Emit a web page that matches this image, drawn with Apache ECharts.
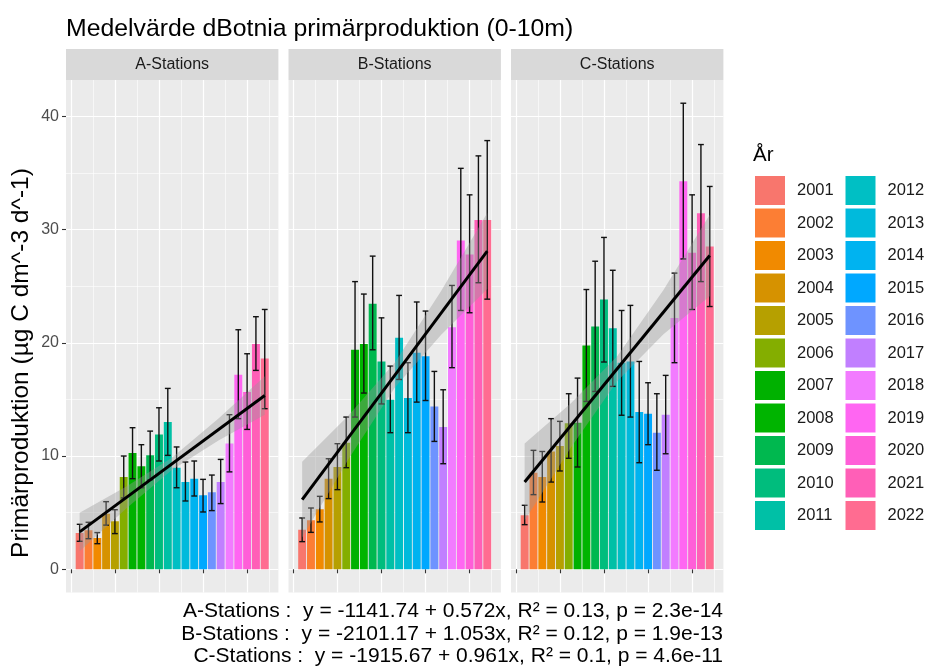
<!DOCTYPE html>
<html><head><meta charset="utf-8">
<script src="https://cdn.jsdelivr.net/npm/echarts@6/dist/echarts.min.js"></script>
<style>html,body{margin:0;padding:0;background:#fff}#c{width:925px;height:666px}</style>
</head><body><div id="c"></div>
<script>
// ---------- data ----------
const years = [2001,2002,2003,2004,2005,2006,2007,2008,2009,2010,2011,2012,2013,2014,2015,2016,2017,2018,2019,2020,2021,2022];
const panelNames = ['A-Stations','B-Stations','C-Stations'];

const meanA = [3.2,3.44,2.76,4.9,4.24,8.15,10.26,9.09,10.06,11.9,13.0,8.97,7.7,8.0,6.53,6.8,7.7,11.1,17.18,15.65,19.9,18.6];
const lowA  = [2.47,2.7,2.26,3.9,3.15,6.3,8.0,7.2,7.9,9.56,10.06,7.2,6.03,6.47,5.06,5.18,5.8,8.6,13.3,12.35,17.56,14.18];
const highA = [3.97,4.15,3.24,5.97,5.26,10.0,12.5,11.0,12.2,14.26,15.97,10.8,9.47,9.56,7.94,8.32,9.7,13.65,21.15,19.03,22.3,22.94];

const meanB = [3.5,4.32,5.29,8.0,9.03,11.18,19.38,19.9,23.44,18.35,14.97,20.44,15.12,19.12,18.82,14.38,12.56,21.38,29.03,27.8,30.85,30.85];
const lowB  = [2.44,3.26,4.18,6.24,7.03,8.97,13.44,15.56,19.38,14.6,12.06,16.76,12.06,14.76,14.9,11.29,9.32,17.8,22.85,22.65,25.3,23.85];
const highB = [4.53,5.41,6.44,9.76,11.09,13.44,25.4,24.3,27.65,22.2,17.94,24.18,18.24,23.6,22.8,17.47,15.85,25.06,35.4,33.06,36.5,37.85];

const meanC = [4.76,8.53,8.15,10.41,10.88,12.9,12.94,19.76,21.44,23.82,21.29,18.24,18.35,13.88,13.73,12.06,13.65,22.18,34.26,27.94,31.44,28.5];
const lowC  = [3.94,6.59,5.94,7.7,8.68,9.8,9.03,14.82,15.7,18.3,16.15,13.6,13.44,9.41,11.0,8.74,10.2,18.24,27.4,22.94,25.4,23.2];
const highC = [5.65,10.5,10.4,13.3,13.06,15.5,16.88,24.7,27.2,29.3,26.4,22.85,23.3,18.35,16.47,15.5,17.12,26.15,41.15,33.06,37.5,33.8];

// regression line end points
const fitYears = [2001,2022];
const fitA = [3.3,15.35];
const fitB = [6.15,28.1];
const fitC = [7.7,27.7];

// confidence band
const bandYears = [2001,2006.25,2011.5,2016.75,2022];
const bandLowA  = [1.6,5.34,8.78,11.37,13.65];
const bandHighA = [5.0,7.28,9.88,13.31,17.05];
const bandLowB  = [2.8,9.71,16.03,20.68,24.75];
const bandHighB = [9.5,13.57,18.23,24.54,31.45];
const bandLowC  = [4.3,10.75,16.6,20.75,24.1];
const bandHighC = [11.1,14.65,18.8,24.65,31.3];

const yTicks = [0,10,20,30,40];
const yMinorTicks = [5,15,25,35];
const xTicks = [2000,2005,2010,2015,2020];
const xMinorTicks = [2002.5,2007.5,2012.5,2017.5,2022.5];

const titleText = 'Medelvärde dBotnia primärproduktion (0-10m)';
const yTitle = 'Primärproduktion (µg C dm^-3 d^-1)';
const legendTitle = 'År';
const statLines = [
  'A-Stations :  y = -1141.74 + 0.572x, R² = 0.13, p = 2.3e-14',
  'B-Stations :  y = -2101.17 + 1.053x, R² = 0.12, p = 1.9e-13',
  'C-Stations :  y = -1915.67 + 0.961x, R² = 0.1, p = 4.6e-11'
];

// ---------- styling / layout ----------
const colors = ['#F8766D','#FC7E34','#F18A00','#D69200','#B6A000','#84AE00','#00B100','#00B400','#00B84F','#00BD7D','#00C0A6',
                '#00BFC4','#00BADC','#00B3F0','#00A8FF','#6E93FF','#C17FFF','#F27BFF','#FF66F2','#FF5ED8','#FF5FB7','#FF6C91'];

const FONT = 'Liberation Sans, Arial, sans-serif';
const gridLeft = [66,288.5,511];
const gridW = 212.4, gridTop = 80, gridH = 512.5;
const X_MIN = 1999.45, X_MAX = 2023.55, Y_MIN = -2.05, Y_MAX = 43.2;

const panels = [
  {mean:meanA, low:lowA, high:highA, fit:fitA, bl:bandLowA, bh:bandHighA},
  {mean:meanB, low:lowB, high:highB, fit:fitB, bl:bandLowB, bh:bandHighB},
  {mean:meanC, low:lowC, high:highC, fit:fitC, bl:bandLowC, bh:bandHighC}
];

const grid=[], xAxis=[], yAxis=[], series=[], graphic=[];
panels.forEach((p,k)=>{
  grid.push({left:gridLeft[k], top:gridTop, width:gridW, height:gridH, show:true, backgroundColor:'#EBEBEB', borderWidth:0, containLabel:false});
});
panels.forEach((p,k)=>{
  xAxis.push({type:'value', gridIndex:k, min:X_MIN, max:X_MAX, position:'bottom',
    axisLine:{show:false},
    axisTick:{show:true, customValues:xTicks, length:4, lineStyle:{color:'#333333', width:1.1}},
    axisLabel:{show:false},
    splitLine:{show:true, lineStyle:{color:'#FFFFFF', width:1.2}}});
});
panels.forEach((p,k)=>{
  xAxis.push({type:'value', gridIndex:k, min:X_MIN, max:X_MAX, position:'top',
    axisLine:{show:false}, axisTick:{show:false, customValues:xMinorTicks}, axisLabel:{show:false},
    splitLine:{show:true, lineStyle:{color:'#FFFFFF', width:0.6}}});
});
panels.forEach((p,k)=>{
  yAxis.push({type:'value', gridIndex:k, min:Y_MIN, max:Y_MAX, position:'left',
    axisLine:{show:false},
    axisTick:{show:k===0, customValues:yTicks, length:4, lineStyle:{color:'#333333', width:1.1}},
    axisLabel:{show:k===0, customValues:yTicks, color:'#4D4D4D', fontSize:16, fontFamily:FONT, margin:7},
    splitLine:{show:true, lineStyle:{color:'#FFFFFF', width:1.2}}});
});
panels.forEach((p,k)=>{
  yAxis.push({type:'value', gridIndex:k, min:Y_MIN, max:Y_MAX, position:'right',
    axisLine:{show:false}, axisTick:{show:false, customValues:yMinorTicks}, axisLabel:{show:false},
    splitLine:{show:true, lineStyle:{color:'#FFFFFF', width:0.6}}});
});

function renderBar(params, api){
  const x=api.value(0), v=api.value(1);
  const a=api.coord([x-0.45, v]), b=api.coord([x+0.45, 0]);
  return {type:'rect', shape:{x:a[0], y:a[1], width:b[0]-a[0], height:b[1]-a[1]}, style:{fill:api.visual('color')}};
}
function renderErr(params, api){
  const x=api.value(0), lo=api.value(1), hi=api.value(2);
  const t=api.coord([x,hi]), b=api.coord([x,lo]);
  const l=api.coord([x-0.33,hi])[0], r=api.coord([x+0.33,hi])[0];
  const st={stroke:'#111111', lineWidth:1.4};
  return {type:'group', children:[
    {type:'line', shape:{x1:t[0],y1:t[1],x2:b[0],y2:b[1]}, style:st},
    {type:'line', shape:{x1:l,y1:t[1],x2:r,y2:t[1]}, style:st},
    {type:'line', shape:{x1:l,y1:b[1],x2:r,y2:b[1]}, style:st}
  ]};
}

panels.forEach((p,k)=>{
  years.forEach((yr,i)=>{
    series.push({type:'custom', name:String(yr), xAxisIndex:k, yAxisIndex:k, z:2,
      itemStyle:{color:colors[i]}, renderItem:renderBar, clip:true,
      encode:{x:0,y:1}, data:[[yr, p.mean[i]]], silent:true});
  });
  series.push({type:'custom', name:'err'+k, xAxisIndex:k, yAxisIndex:k, z:3, renderItem:renderErr, silent:true,
    encode:{x:0,y:[1,2]}, data:years.map((yr,i)=>[yr, p.low[i], p.high[i]])});
  series.push({type:'custom', name:'band'+k, xAxisIndex:k, yAxisIndex:k, z:4, silent:true,
    encode:{x:0,y:[1,2]}, data:bandYears.map((yr,i)=>[yr, p.bl[i], p.bh[i]]),
    renderItem:function(params, api){
      if(params.dataIndex!==0) return null;
      const pts=[];
      for(let i=0;i<bandYears.length;i++) pts.push(api.coord([bandYears[i], p.bh[i]]));
      for(let i=bandYears.length-1;i>=0;i--) pts.push(api.coord([bandYears[i], p.bl[i]]));
      return {type:'polygon', shape:{points:pts}, style:{fill:'rgba(153,153,153,0.4)'}};
    }});
  series.push({type:'line', name:'fit'+k, xAxisIndex:k, yAxisIndex:k, z:5, silent:true,
    showSymbol:false, symbol:'none', lineStyle:{color:'#000000', width:3},
    data:fitYears.map((yr,i)=>[yr, p.fit[i]])});
  // strip
  graphic.push({type:'group', left:gridLeft[k], top:49, children:[
    {type:'rect', shape:{x:0,y:0,width:gridW,height:31}, style:{fill:'#D9D9D9'}},
    {type:'text', x:gridW/2, y:16, style:{text:panelNames[k], font:'16px '+FONT, fill:'#1A1A1A', align:'center', verticalAlign:'middle'}}
  ]});
});

graphic.push({type:'text', left:66, top:17, style:{text:titleText, font:'24.8px '+FONT, fill:'#000000'}});
graphic.push({type:'text', x:21, y:363, rotation:Math.PI/2, style:{text:yTitle, font:'24.5px '+FONT, fill:'#000000', align:'center', verticalAlign:'middle'}});
graphic.push({type:'text', left:753, top:145, style:{text:legendTitle, font:'20.5px '+FONT, fill:'#000000'}});
statLines.forEach((s,i)=>{
  graphic.push({type:'text', right:202, top:601+i*22.5, style:{text:s, font:'21px '+FONT, fill:'#000000', align:'right'}});
});

const legendBase = {orient:'vertical', selectedMode:false, icon:'rect', itemWidth:30, itemHeight:29, itemGap:3.5, padding:0,
  textStyle:{fontSize:16.5, fontFamily:FONT, color:'#1A1A1A', padding:[0,0,0,7]}};
const legend = [
  Object.assign({}, legendBase, {left:755, top:176, data:years.slice(0,11).map(String)}),
  Object.assign({}, legendBase, {left:845.5, top:176, data:years.slice(11).map(String)})
];

const chart = echarts.init(document.getElementById('c'), null, {renderer:'canvas'});
chart.setOption({animation:false, backgroundColor:'#FFFFFF', grid, xAxis, yAxis, series, legend, graphic});
</script></body></html>
